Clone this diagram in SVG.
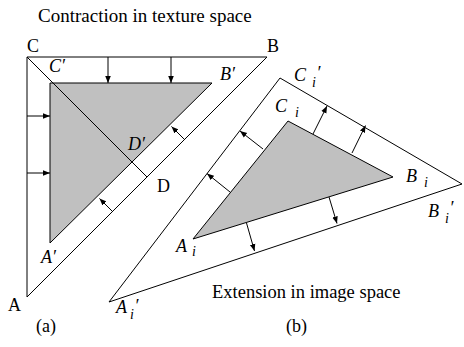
<svg xmlns="http://www.w3.org/2000/svg" width="464" height="347" viewBox="0 0 464 347">
<style>
.ln{fill:none;stroke:#000;stroke-width:1}
.gr{fill:#c0c0c0;stroke:#000;stroke-width:1}
.ar{fill:none;stroke:#000;stroke-width:1;marker-end:url(#ah)}
.tx{font-family:'Liberation Serif','Times New Roman','DejaVu Serif',serif;fill:#000}
.t{font-size:18.5px}
.l{font-size:18px}
.it{font-size:18px;font-style:italic}
.sb{font-size:14px;font-style:italic}
</style>
<defs>
<marker id="ah" viewBox="0 0 10 10" refX="10" refY="5" markerWidth="7" markerHeight="7" markerUnits="userSpaceOnUse" orient="auto">
<path d="M0,1 L10,5 L0,9 Z" fill="#000"/>
</marker>
</defs>
<g id="title-a" class="tx"><text class="t" x="38" y="22" style="font-size:19px">Contraction in texture space</text></g>
<g id="triangle-ABC">
<polygon class="ln" points="27,57 267,57 27,297"/>
</g>
<g id="triangle-ABC-prime">
<polygon class="gr" points="50,83 212,83 50,243"/>
</g>
<g id="title-b" class="tx"><text class="t" x="212" y="298">Extension in image space</text></g>
<g id="triangle-outer-b">
<polygon class="ln" points="280,78 462,184 109,302"/>
</g>
<g id="triangle-inner-b">
<polygon class="gr" points="288,121 393,177 193,239"/>
</g>
<g id="connectors">
<line class="ln" x1="27" y1="57" x2="147" y2="177"/>
<line class="ar" x1="108" y1="57" x2="108" y2="83"/>
<line class="ar" x1="171" y1="57" x2="171" y2="83"/>
<line class="ar" x1="27" y1="116" x2="50" y2="116"/>
<line class="ar" x1="27" y1="173" x2="50" y2="173"/>
<line class="ar" x1="185" y1="140" x2="171.5" y2="126.5"/>
<line class="ar" x1="113" y1="212" x2="99.5" y2="198.5"/>
<line class="ar" x1="313" y1="134" x2="327" y2="106"/>
<line class="ar" x1="352" y1="153" x2="365.5" y2="125.5"/>
<line class="ar" x1="263" y1="149" x2="240" y2="131"/>
<line class="ar" x1="230" y1="192" x2="207" y2="173.5"/>
<line class="ar" x1="329" y1="197" x2="337" y2="223.5"/>
<line class="ar" x1="246.5" y1="223" x2="254.5" y2="251"/>
</g>
<g id="labels-a" class="tx">
<text class="l" x="27" y="52">C</text>
<text class="l" x="267" y="52">B</text>
<text class="l" x="8" y="311">A</text>
<text class="l" x="157" y="192">D</text>
<text class="it" x="49" y="72">C′</text>
<text class="it" x="220" y="80">B′</text>
<text class="it" x="128" y="150">D′</text>
<text class="it" x="41" y="263">A′</text>
<text class="l" x="36" y="332">(a)</text>
</g>
<g id="labels-b" class="tx">
<text class="it" x="275" y="112">C<tspan class="sb" x="295" y="117">i</tspan></text>
<text class="it" x="294" y="81">C<tspan class="sb" x="312" y="87">i</tspan><tspan x="316.5" y="79">′</tspan></text>
<text class="it" x="406" y="182">B<tspan class="sb" x="424" y="187">i</tspan></text>
<text class="it" x="428" y="217">B<tspan class="sb" x="445" y="223">i</tspan><tspan x="449.5" y="214">′</tspan></text>
<text class="it" x="176" y="252">A<tspan class="sb" x="192" y="256">i</tspan></text>
<text class="it" x="116" y="313">A<tspan class="sb" x="130" y="319">i</tspan><tspan x="134.5" y="312">′</tspan></text>
<text class="l" x="286" y="332">(b)</text>
</g>
</svg>
